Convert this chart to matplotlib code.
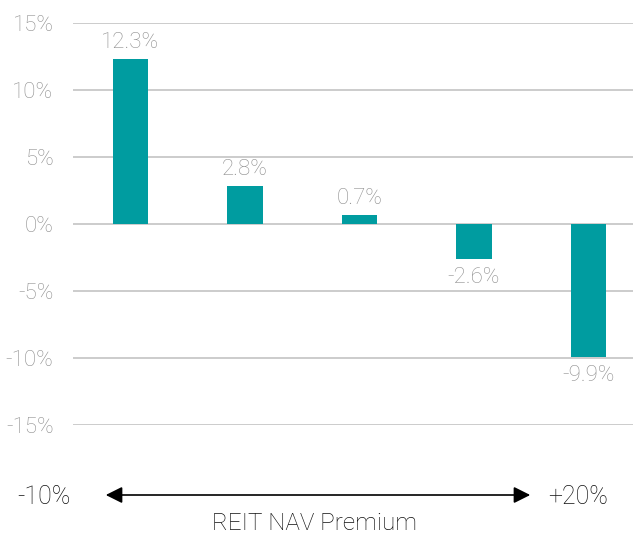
import numpy as np
import matplotlib.pyplot as plt

# data
buckets = ['Q1', 'Q2', 'Q3', 'Q4', 'Q5']
returns = [12.3, 2.8, 0.7, -2.6, -9.9]
yticks = [-15, -10, -5, 0, 5, 10, 15]

plt.rcParams['font.family'] = ['Roboto', 'DejaVu Sans']

W, H = 633, 537
fig = plt.figure(figsize=(W / 100, H / 100), dpi=100)
ax = fig.add_axes([73 / W, 1 - 425 / H, (W - 73) / W, (425 - 23) / H])

x = np.arange(len(returns))
ax.bar(x, returns, width=0.31, color='#009ca0', zorder=3)
ax.set_ylim(-15, 15)
ax.set_xlim(-0.5, 4.39)
ax.set_yticks(yticks)
ax.set_yticklabels([f'{t}%' for t in yticks], fontsize=16, color='#8f8f8f', fontweight='light')
ax.tick_params(axis='y', length=0, pad=14)
ax.set_xticks([])
ax.yaxis.grid(True, color='#c8c8c8', linewidth=1.3, zorder=0)
for s in ax.spines.values():
    s.set_visible(False)

for xi, v in zip(x, returns):
    off = 0.45 if v >= 0 else -0.6
    ax.text(xi, v + off, f'{v}%', ha='center', va='bottom' if v >= 0 else 'top',
            fontsize=16, color='#8f8f8f', fontweight='light')

# bottom axis annotation
fig.text(44 / W, 1 - 497 / H, '-10%', ha='center', va='center', fontsize=18, color='#111111', fontweight='light')
fig.text(578 / W, 1 - 497 / H, '+20%', ha='center', va='center', fontsize=18, color='#111111', fontweight='light')
fig.text(315 / W, 1 - 523 / H, 'REIT NAV Premium', ha='center', va='center', fontsize=17.5, color='#111111', fontweight='light')
fig.patches.append(plt.matplotlib.patches.FancyArrowPatch(
    (103 / W, 1 - 495 / H), (533 / W, 1 - 495 / H), transform=fig.transFigure,
    arrowstyle='<|-|>,head_length=10,head_width=5', color='black', linewidth=1.2))

fig.savefig('out.png', dpi=100)
